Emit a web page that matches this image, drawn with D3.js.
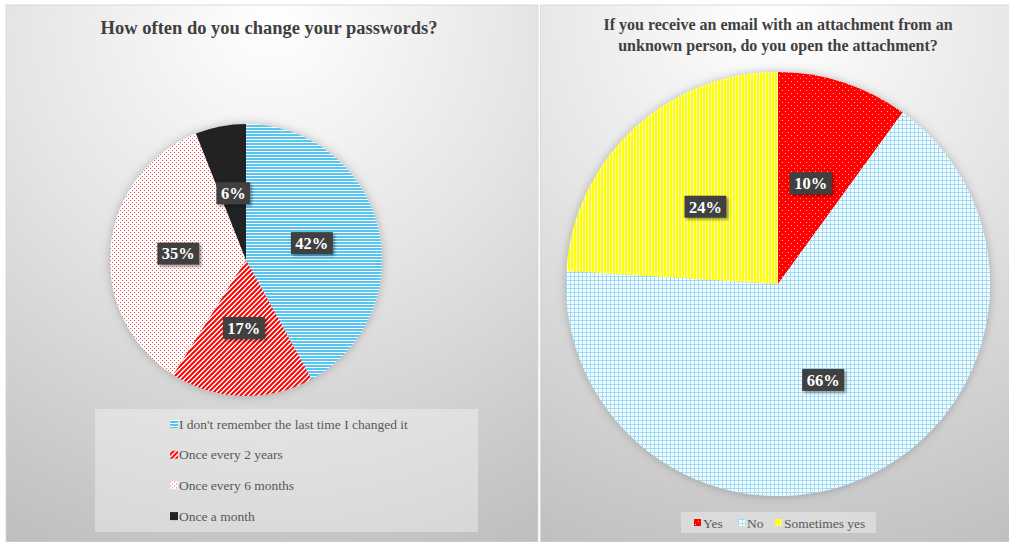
<!DOCTYPE html>
<html>
<head>
<meta charset="utf-8">
<script src="https://cdn.jsdelivr.net/npm/d3@7"></script>
<style>
  html, body { margin: 0; padding: 0; background: #ffffff; }
  svg { display: block; font-family: "Liberation Serif", "Times New Roman", serif; }
</style>
</head>
<body>
<svg id="chart" width="1009" height="542"></svg>
<script>
// Survey: how often passwords are changed
const pwTitle = "How often do you change your passwords?";
const pwCategories = [
  "I don't remember the last time I changed it",
  "Once every 2 years",
  "Once every 6 months",
  "Once a month"
];
const pwValues = [42, 17, 35, 6];
const pwFills = ["hlines-blue", "diag-red", "dots-pink", "solid-black"];

// Survey: opening attachments from unknown senders
const mailTitle = ["If you receive an email with an attachment from an",
                   "unknown person, do you open the attachment?"];
const mailCategories = ["Yes", "No", "Sometimes yes"];
const mailValues = [10, 66, 24];
const mailFills = ["dots-red", "grid-blue", "vlines-yellow"];

const svg = d3.select("#chart");
const defs = svg.append("defs");

// Panel background gradients
function panelGradient(id, cx) {
  const g = defs.append("radialGradient")
    .attr("id", id)
    .attr("gradientUnits", "userSpaceOnUse")
    .attr("cx", cx).attr("cy", 20).attr("r", 600);
  g.append("stop").attr("offset", 0).attr("stop-color", "#ffffff");
  g.append("stop").attr("offset", 0.45).attr("stop-color", "#e4e4e4");
  g.append("stop").attr("offset", 1).attr("stop-color", "#bcbcbc");
}
panelGradient("bgLeft", 272);
panelGradient("bgRight", 775);

// Soft shadows
const pieShadow = defs.append("filter").attr("id", "pieShadow")
  .attr("x", "-20%").attr("y", "-20%").attr("width", "140%").attr("height", "140%");
pieShadow.append("feDropShadow").attr("dx", 0).attr("dy", 0)
  .attr("stdDeviation", 5).attr("flood-color", "#000").attr("flood-opacity", 0.25);
const boxShadow = defs.append("filter").attr("id", "boxShadow")
  .attr("x", "-30%").attr("y", "-30%").attr("width", "170%").attr("height", "170%");
boxShadow.append("feDropShadow").attr("dx", 2).attr("dy", 2)
  .attr("stdDeviation", 1.5).attr("flood-color", "#000").attr("flood-opacity", 0.4);

// Fill patterns
function pattern(id, w, h, bg, draw) {
  const p = defs.append("pattern").attr("id", id)
    .attr("patternUnits", "userSpaceOnUse").attr("width", w).attr("height", h);
  p.append("rect").attr("width", w).attr("height", h).attr("fill", bg);
  draw(p);
}
pattern("hlines-blue", 3, 3, "#ffffff", p => {
  p.append("rect").attr("y", 0).attr("width", 3).attr("height", 2).attr("fill", "#55c6f2");
});
pattern("diag-red", 5, 5, "#ffffff", p => {
  p.append("path").attr("d", "M-1.25,6.25 L6.25,-1.25 M-1.25,1.25 L1.25,-1.25 M3.75,6.25 L6.25,3.75")
    .attr("stroke", "#ff0000").attr("stroke-width", 2.0);
});
pattern("dots-pink", 4, 4, "#ffffff", p => {
  p.append("rect").attr("x", 0).attr("y", 0).attr("width", 1).attr("height", 1).attr("fill", "#f04848");
  p.append("rect").attr("x", 2).attr("y", 2).attr("width", 1).attr("height", 1).attr("fill", "#f04848");
});
pattern("solid-black", 4, 4, "#222222", () => {});
pattern("dots-red", 6, 6, "#ff0000", p => {
  p.append("rect").attr("x", 1).attr("y", 1).attr("width", 1).attr("height", 1).attr("fill", "#ffb0b0");
  p.append("rect").attr("x", 4).attr("y", 4).attr("width", 1).attr("height", 1).attr("fill", "#ffb0b0");
});
pattern("grid-blue", 4, 4, "#ffffff", p => {
  p.append("rect").attr("x", 0).attr("y", 0).attr("width", 4).attr("height", 1).attr("fill", "#9adcf8");
  p.append("rect").attr("x", 0).attr("y", 0).attr("width", 1).attr("height", 4).attr("fill", "#9adcf8");
  p.append("rect").attr("x", 2).attr("y", 2).attr("width", 1).attr("height", 1).attr("fill", "#cdeefc");
});
pattern("vlines-yellow", 3, 3, "#ffffff", p => {
  p.append("rect").attr("x", 0).attr("width", 2.2).attr("height", 3).attr("fill", "#ffff00");
});

// Panels
svg.append("rect").attr("x", 6).attr("y", 5).attr("width", 532).attr("height", 537)
  .attr("fill", "url(#bgLeft)").attr("stroke", "#d4d4d4").attr("stroke-width", 0.8);
svg.append("rect").attr("x", 540.5).attr("y", 5).attr("width", 469).attr("height", 537)
  .attr("fill", "url(#bgRight)").attr("stroke", "#d4d4d4").attr("stroke-width", 0.8);

// Titles
svg.append("text").attr("x", 269).attr("y", 34).attr("text-anchor", "middle")
  .attr("font-size", 18.5).attr("font-weight", "bold").attr("fill", "#404040").text(pwTitle);
svg.append("text").attr("text-anchor", "middle").attr("font-size", 16)
  .attr("font-weight", "bold").attr("fill", "#404040")
  .selectAll("tspan").data(mailTitle).join("tspan")
  .attr("x", 778).attr("y", (d, i) => 30 + i * 21).text(d => d);

// Pie drawing
function drawPie(values, fills, cx, cy, r) {
  const pie = d3.pie().sort(null).value(d => d)(values);
  const arc = d3.arc().innerRadius(0).outerRadius(r);
  const g = svg.append("g").attr("transform", `translate(${cx},${cy})`);
  g.append("g").attr("filter", "url(#pieShadow)")
    .selectAll("path").data(pie).join("path")
    .attr("d", arc)
    .attr("fill", (d, i) => `url(#${fills[i]})`);
  const labels = g.selectAll("g.lbl").data(pie).join("g")
    .attr("class", "lbl")
    .attr("transform", d => `translate(${arc.centroid(d)})`);
  labels.each(function(d) {
    const sel = d3.select(this);
    const t = sel.append("text").attr("text-anchor", "middle").attr("dy", "0.35em")
      .attr("font-size", 16.5).attr("font-weight", "bold").attr("fill", "#ffffff")
      .text(`${d.data}%`);
    const w = t.node().getComputedTextLength() + 9;
    sel.insert("rect", "text").attr("x", -w / 2).attr("y", -11).attr("width", w).attr("height", 22)
      .attr("fill", "#404040").attr("filter", "url(#boxShadow)");
  });
}
drawPie(pwValues, pwFills, 246, 260, 136);
drawPie(mailValues, mailFills, 778, 284, 212);

// Left legend (vertical)
svg.append("rect").attr("x", 95).attr("y", 409).attr("width", 383).attr("height", 123)
  .attr("fill", "#ffffff").attr("fill-opacity", 0.35);
const legL = svg.append("g").selectAll("g").data(pwCategories).join("g")
  .attr("transform", (d, i) => `translate(170,${424 + i * 30.7})`);
legL.append("rect").attr("x", 0).attr("y", -4).attr("width", 8).attr("height", 8)
  .attr("fill", (d, i) => `url(#${pwFills[i]})`);
legL.append("text").attr("x", 9).attr("dy", "0.35em").attr("font-size", 13.5)
  .attr("fill", "#595959").text(d => d);

// Right legend (horizontal)
svg.append("rect").attr("x", 681).attr("y", 512).attr("width", 195).attr("height", 21)
  .attr("fill", "#ffffff").attr("fill-opacity", 0.35);
const legXs = [694, 738, 775];
const legR = svg.append("g").selectAll("g").data(mailCategories).join("g")
  .attr("transform", (d, i) => `translate(${legXs[i]},523)`);
legR.append("rect").attr("x", 0).attr("y", -4).attr("width", 7).attr("height", 7)
  .attr("fill", (d, i) => `url(#${mailFills[i]})`);
legR.append("text").attr("x", 9).attr("dy", "0.35em").attr("font-size", 13.5)
  .attr("fill", "#595959").text(d => d);
</script>
</body>
</html>
